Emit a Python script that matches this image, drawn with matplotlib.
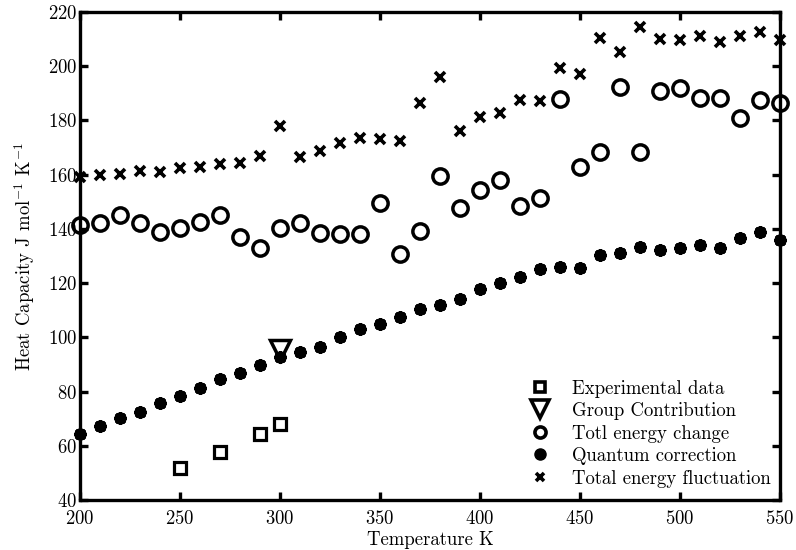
import matplotlib
matplotlib.use("Agg")
import matplotlib.pyplot as plt
from matplotlib.lines import Line2D
import numpy as np

plt.rcParams['font.family'] = 'serif'
plt.rcParams['font.serif'] = ['cmr10', 'DejaVu Serif']
plt.rcParams['mathtext.fontset'] = 'cm'
plt.rcParams['axes.formatter.use_mathtext'] = True

FS = 13.5

# Temperatures (K)
temps = list(range(200, 551, 10))

# Experimental data
exp_t = [250, 270, 290, 300]
exp_cp = [51.9, 57.6, 64.2, 67.9]

# Group contribution estimate
gc_t = [300]
gc_cp = [95.5]

# Total energy change
totl_change = [141.4, 142.3, 145.1, 142.3, 139.0, 140.2, 142.4, 145.1, 137.1, 132.8,
               140.2, 142.3, 138.6, 138.0, 138.0, 149.4, 130.6, 139.2, 159.6, 147.6,
               154.3, 158.0, 148.4, 151.3, 187.9, 162.9, 168.2, 192.5, 168.2, 190.9,
               191.9, 188.4, 188.2, 181.0, 187.5, 186.3]

# Quantum correction
quantum = [64.2, 67.4, 70.1, 72.6, 75.9, 78.5, 81.2, 84.5, 87.0, 89.8,
           92.6, 94.7, 96.5, 100.2, 103.0, 104.9, 107.4, 110.5, 111.9, 114.1,
           117.7, 119.9, 122.4, 125.3, 125.8, 125.5, 130.4, 131.0, 133.4, 132.2,
           132.8, 134.1, 132.8, 136.5, 139.0, 135.9]

# Total energy fluctuation
fluct = [159.3, 159.9, 160.2, 161.4, 161.1, 162.3, 162.9, 163.8, 164.2, 167.0,
         178.1, 166.6, 168.7, 171.8, 173.6, 173.0, 172.5, 186.3, 196.1, 176.1,
         181.4, 182.6, 187.5, 187.2, 199.2, 197.1, 210.3, 205.4, 214.6, 209.9,
         209.7, 211.2, 208.8, 211.2, 212.6, 209.7]

labels = ['Experimental data', 'Group Contribution', 'Totl energy change',
          'Quantum correction', 'Total energy fluctuation']

fig = plt.figure(figsize=(7.96, 5.5), dpi=100)
ax = fig.add_axes([0.1005, 0.0909, 0.8794, 0.8873])

common = dict(linestyle='none', clip_on=False, zorder=3)
ax.plot(exp_t, exp_cp, marker='s', markersize=9, markerfacecolor='white',
        markeredgecolor='black', markeredgewidth=2.3, **common)
ax.plot(temps, totl_change, marker='o', markersize=11, markerfacecolor='none',
        markeredgecolor='black', markeredgewidth=2.5, **common)
ax.plot(temps, quantum, marker='o', markersize=8, markerfacecolor='black',
        markeredgecolor='black', markeredgewidth=1.0, **common)
ax.plot(temps, quantum, marker=(8, 2, 0), markersize=9,
        markeredgecolor='black', markeredgewidth=2.0, **common)
ax.plot(temps, fluct, marker='x', markersize=6.5, markeredgecolor='black',
        markeredgewidth=2.6, **common)
ax.plot(gc_t, gc_cp, linestyle='none', marker='v', markersize=15,
        markerfacecolor='none', markeredgecolor='black', markeredgewidth=2.5,
        clip_on=False, zorder=4)

ax.set_xlim(200, 550)
ax.set_ylim(40, 220)
ax.set_xticks(np.arange(200, 551, 50))
ax.set_yticks(np.arange(40, 221, 20))

for s in ax.spines.values():
    s.set_linewidth(2.4)
ax.tick_params(direction='in', length=6, width=2.4, top=True, right=True,
               labelsize=FS)
ax.tick_params(axis='x', pad=7)
ax.tick_params(axis='y', pad=2)

ax.set_xlabel('Temperature K', fontsize=FS, labelpad=2)
ax.set_ylabel(r'Heat Capacity J mol$^{-1}$ K$^{-1}$', fontsize=FS, labelpad=8)

# Legend keys drawn a little smaller than the plotted markers
handles = [
    Line2D([], [], linestyle='none', marker='s', markersize=7.5,
           markerfacecolor='white', markeredgecolor='black', markeredgewidth=2.6),
    Line2D([], [], linestyle='none', marker='v', markersize=13,
           markerfacecolor='none', markeredgecolor='black', markeredgewidth=2.6),
    Line2D([], [], linestyle='none', marker='o', markersize=8,
           markerfacecolor='none', markeredgecolor='black', markeredgewidth=2.6),
    Line2D([], [], linestyle='none', marker='o', markersize=8,
           markerfacecolor='black', markeredgecolor='black', markeredgewidth=1.0),
    Line2D([], [], linestyle='none', marker='x', markersize=5.5,
           markeredgecolor='black', markeredgewidth=2.6),
]
ax.legend(handles, labels, loc='lower right', frameon=False, fontsize=FS,
          handletextpad=1.1, handlelength=1.2, labelspacing=0.24,
          borderaxespad=0.0, borderpad=0.3, bbox_to_anchor=(0.995, 0.014))

fig.savefig('out.png', dpi=100)
